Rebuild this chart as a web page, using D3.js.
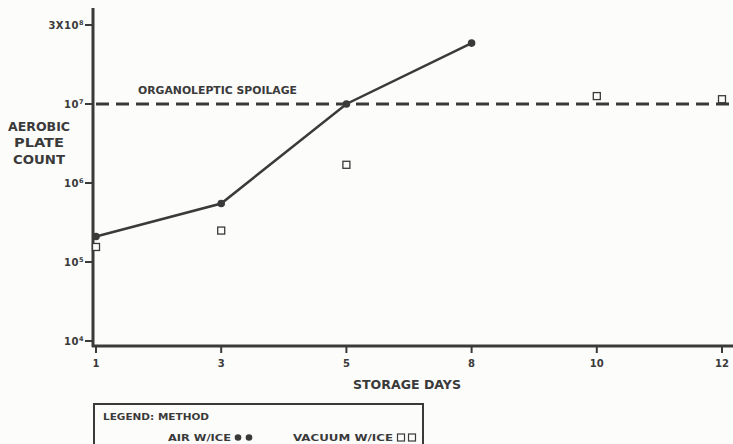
<!DOCTYPE html>
<html>
<head>
<meta charset="utf-8">
<script src="https://cdn.jsdelivr.net/npm/d3@7/dist/d3.min.js"></script>
<style>
  html, body { margin: 0; padding: 0; background: #fcfcfb; }
  svg { display: block; }
  text { font-family: "DejaVu Sans", sans-serif; font-weight: bold; fill: #3a3a3a; }
</style>
</head>
<body>
<svg id="chart" width="733" height="444"></svg>
<script>
// Storage days (categorical, evenly spaced on the axis)
const days = ["1", "3", "5", "8", "10", "12"];

// Aerobic plate count per method
const airDays = ["1", "3", "5", "8"];
const airCounts = [2.1e5, 5.5e5, 1.0e7, 5.9e7];

const vacuumDays = ["1", "3", "5", "10", "12"];
const vacuumCounts = [1.55e5, 2.5e5, 1.7e6, 1.26e7, 1.15e7];

// Spoilage threshold
const spoilageLevel = 1e7;

// Y axis ticks and their labels
const yTicks = [1e4, 1e5, 1e6, 1e7, 1e8];
const yTickLabels = [["10", "4"], ["10", "5"], ["10", "6"], ["10", "7"], ["3X10", "8"]];

const ink = "#3a3a3a";
const svg = d3.select("#chart");

const x = d3.scalePoint().domain(days).range([96, 722]);
const y = d3.scaleLog().domain([1e4, 1e8]).range([341, 25]);

const axisX = 93;
const axisY = 346;

// Wide, heavy lettering: stretch a text element to a given width
function label(parent, str, px, py, size, width, anchor) {
  const t = parent.append("text")
    .attr("x", px).attr("y", py)
    .attr("text-anchor", anchor || "start")
    .style("font-size", size + "px")
    .text(str);
  if (width) t.attr("textLength", width).attr("lengthAdjust", "spacingAndGlyphs");
  return t;
}

// Y axis line
svg.append("line")
  .attr("x1", axisX).attr("x2", axisX)
  .attr("y1", 8).attr("y2", axisY + 1)
  .attr("stroke", ink).attr("stroke-width", 3);

// X axis line
svg.append("line")
  .attr("x1", axisX - 1).attr("x2", 733)
  .attr("y1", axisY).attr("y2", axisY)
  .attr("stroke", ink).attr("stroke-width", 3);

// Y ticks
const yt = svg.append("g");
yTicks.forEach((v, i) => {
  const yy = y(v);
  yt.append("line")
    .attr("x1", axisX - 8).attr("x2", axisX)
    .attr("y1", yy).attr("y2", yy)
    .attr("stroke", ink).attr("stroke-width", 2);
  const t = yt.append("text")
    .attr("x", axisX - 9).attr("y", yy + 3.5)
    .attr("text-anchor", "end")
    .style("font-size", "10px")
    .style("letter-spacing", "0.5px");
  t.append("tspan").text(yTickLabels[i][0]);
  t.append("tspan").attr("dy", -3.5).style("font-size", "6.5px").text(yTickLabels[i][1]);
});

// X ticks
const xt = svg.append("g");
days.forEach(d => {
  const xx = x(d);
  xt.append("line")
    .attr("x1", xx).attr("x2", xx)
    .attr("y1", axisY).attr("y2", axisY + 7)
    .attr("stroke", ink).attr("stroke-width", 2);
  xt.append("text")
    .attr("x", xx).attr("y", 367)
    .attr("text-anchor", "middle")
    .style("font-size", "10px")
    .text(d);
});

// Axis titles
label(svg, "STORAGE DAYS", 353, 388.5, 11.5, 108);

const yTitleWidths = [62, 50, 52];
["AEROBIC", "PLATE", "COUNT"].forEach((w, i) => {
  label(svg, w, 39, 130.5 + i * 16.5, 11.5, yTitleWidths[i], "middle");
});

// Spoilage threshold
svg.append("line")
  .attr("x1", 96).attr("x2", 733)
  .attr("y1", y(spoilageLevel)).attr("y2", y(spoilageLevel))
  .attr("stroke", ink).attr("stroke-width", 3)
  .attr("stroke-dasharray", "13,7");

label(svg, "ORGANOLEPTIC SPOILAGE", 138, y(spoilageLevel) - 10, 10, 159);

// Air w/ice: connected line with filled dots
const airData = airDays.map((d, i) => ({ d, v: airCounts[i] }));
svg.append("path")
  .datum(airData)
  .attr("fill", "none")
  .attr("stroke", ink)
  .attr("stroke-width", 2.5)
  .attr("d", d3.line().x(p => x(p.d)).y(p => y(p.v)));

svg.selectAll(".air")
  .data(airData)
  .join("circle")
  .attr("class", "air")
  .attr("cx", p => x(p.d)).attr("cy", p => y(p.v))
  .attr("r", 3.8)
  .attr("fill", ink);

// Vacuum w/ice: open squares
const vacData = vacuumDays.map((d, i) => ({ d, v: vacuumCounts[i] }));
svg.selectAll(".vac")
  .data(vacData)
  .join("rect")
  .attr("class", "vac")
  .attr("x", p => x(p.d) - 3.5).attr("y", p => y(p.v) - 3.5)
  .attr("width", 7).attr("height", 7)
  .attr("fill", "#fcfcfb")
  .attr("stroke", ink).attr("stroke-width", 1.3);

// Legend
const lg = svg.append("g");
lg.append("rect")
  .attr("x", 94).attr("y", 404)
  .attr("width", 329).attr("height", 60)
  .attr("fill", "none")
  .attr("stroke", ink).attr("stroke-width", 2);
label(lg, "LEGEND: METHOD", 103, 419.5, 9.5, 106);
label(lg, "AIR W/ICE", 168, 441, 9.5, 63);
[238, 249].forEach(cx => {
  lg.append("circle").attr("cx", cx).attr("cy", 437.5).attr("r", 3.3).attr("fill", ink);
});
label(lg, "VACUUM W/ICE", 293, 441, 9.5, 100);
[401, 412].forEach(cx => {
  lg.append("rect").attr("x", cx - 3.5).attr("y", 434).attr("width", 7).attr("height", 7)
    .attr("fill", "none").attr("stroke", ink).attr("stroke-width", 1.2);
});
</script>
</body>
</html>
